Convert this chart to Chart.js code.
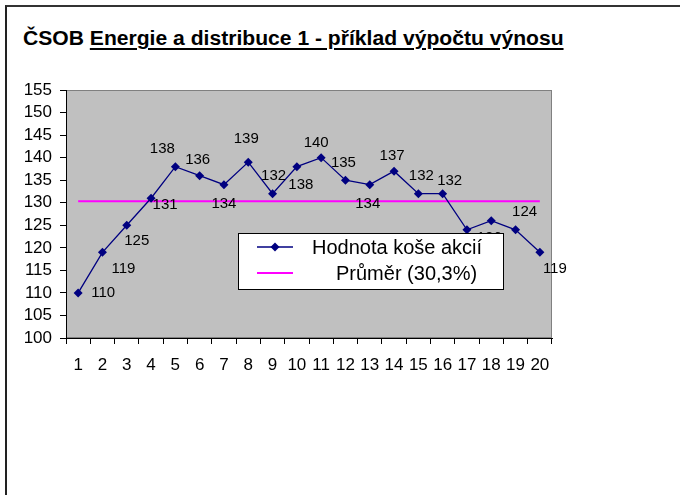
<!DOCTYPE html>
<html>
<head>
<meta charset="utf-8">
<script src="https://cdn.jsdelivr.net/npm/chart.js@4"></script>
<style>
    html, body { margin: 0; padding: 0; background: #fff; }
    #wrap { position: relative; width: 680px; height: 495px; overflow: hidden; }
    #frame { position: absolute; left: 5px; top: 5px; width: 700px; height: 520px;
             border-top: 2px solid #333; border-left: 2px solid #222; }
    #title { position: absolute; left: 23px; top: 27px; white-space: nowrap;
             font: bold 20px "Liberation Sans", Arial, sans-serif; line-height: 22px;
             transform: scaleX(1.055); transform-origin: left top; color: #000; }
    #title u { text-decoration-thickness: 2px; text-underline-offset: 3px; }
    canvas { position: absolute; left: 0; top: 0; }
</style>
</head>
<body>
<div id="wrap">
    <div id="frame"></div>
    <div id="title">ČSOB <u>Energie a distribuce 1 - příklad výpočtu výnosu</u></div>
    <canvas id="chart" width="680" height="495"></canvas>
</div>
<script>
    // Data
    const periods = ['1', '2', '3', '4', '5', '6', '7', '8', '9', '10',
                     '11', '12', '13', '14', '15', '16', '17', '18', '19', '20'];
    const basketValues = [110, 119, 125, 131, 138, 136, 134, 139, 132, 138,
                          140, 135, 134, 137, 132, 132, 124, 126, 124, 119];
    const averageValue = 130.3;
    const averageLine = periods.map(() => averageValue);
    const seriesNames = ['Hodnota koše akcií', 'Průměr (30,3%)'];

    const FONT = '"Liberation Sans", Arial, sans-serif';

    // where each value label sits relative to its point (dx, dy)
    const labelOffsets = [
        [25, 0], [21, 17], [10, 16], [14, 7], [-13, -18], [-2, -16], [0, 19], [-2, -23],
        [1, -18], [4, 18], [-5, -15], [-2, -17], [-2, 19], [-2, -15], [3, -18], [7, -13],
        [2, 17], [-2, 17], [9, -18], [15, 17]
    ];

    // grey plot area with light border
    const plotBackground = {
        id: 'plotBackground',
        beforeDraw(chart) {
            const { ctx, chartArea: a } = chart;
            ctx.save();
            ctx.fillStyle = '#C0C0C0';
            ctx.fillRect(a.left, a.top, a.right - a.left, a.bottom - a.top);
            ctx.strokeStyle = '#808080';
            ctx.lineWidth = 1;
            ctx.strokeRect(a.left + 0.5, a.top + 0.5, a.right - a.left - 1, a.bottom - a.top - 1);
            ctx.restore();
        }
    };

    // value labels next to the points
    const valueLabels = {
        id: 'valueLabels',
        afterDatasetsDraw(chart) {
            const { ctx } = chart;
            const meta = chart.getDatasetMeta(0);
            ctx.save();
            ctx.font = '15px ' + FONT;
            ctx.fillStyle = '#000';
            ctx.textAlign = 'center';
            ctx.textBaseline = 'middle';
            meta.data.forEach((pt, i) => {
                const [dx, dy] = labelOffsets[i];
                ctx.fillText(String(basketValues[i]), pt.x + dx, pt.y + dy);
            });
            ctx.restore();
        }
    };

    // legend box inside the plot
    const boxLegend = {
        id: 'boxLegend',
        afterDraw(chart) {
            const { ctx } = chart;
            const x = 238, y = 233, w = 265, h = 56;
            ctx.save();
            ctx.fillStyle = '#fff';
            ctx.fillRect(x, y, w, h);
            ctx.strokeStyle = '#000';
            ctx.lineWidth = 1;
            ctx.strokeRect(x + 0.5, y + 0.5, w, h);

            // series 1 sample
            const y1 = 247, y2 = 273;
            ctx.strokeStyle = '#000080';
            ctx.lineWidth = 1.3;
            ctx.beginPath();
            ctx.moveTo(257, y1);
            ctx.lineTo(293, y1);
            ctx.stroke();
            ctx.fillStyle = '#000080';
            ctx.beginPath();
            ctx.moveTo(275, y1 - 4.5);
            ctx.lineTo(279.5, y1);
            ctx.lineTo(275, y1 + 4.5);
            ctx.lineTo(270.5, y1);
            ctx.closePath();
            ctx.fill();

            // series 2 sample
            ctx.strokeStyle = '#FF00FF';
            ctx.lineWidth = 2;
            ctx.beginPath();
            ctx.moveTo(257, y2);
            ctx.lineTo(293, y2);
            ctx.stroke();

            ctx.fillStyle = '#000';
            ctx.font = '20px ' + FONT;
            ctx.textAlign = 'left';
            ctx.textBaseline = 'middle';
            ctx.fillText(seriesNames[0], 312, y1 + 1);
            ctx.fillText(seriesNames[1], 336, y2 + 1);
            ctx.restore();
        }
    };

    const ctx = document.getElementById('chart').getContext('2d');
    new Chart(ctx, {
        type: 'line',
        data: {
            labels: periods,
            datasets: [{
                label: seriesNames[0],
                data: basketValues,
                borderColor: '#000080',
                backgroundColor: '#000080',
                borderWidth: 1.3,
                pointStyle: 'rectRot',
                pointRadius: 4.5,
                pointBorderWidth: 0,
                tension: 0
            }, {
                label: seriesNames[1],
                data: averageLine,
                borderColor: '#FF00FF',
                borderWidth: 2,
                pointRadius: 0,
                tension: 0
            }]
        },
        options: {
            responsive: false,
            animation: false,
            devicePixelRatio: 1,
            layout: { padding: { top: 90, right: 128, bottom: 117, left: 0 } },
            plugins: {
                legend: { display: false },
                title: { display: false },
                tooltip: { enabled: false }
            },
            scales: {
                x: {
                    type: 'category',
                    offset: true,
                    afterFit(scale) { scale.height = 40; },
                    grid: {
                        offset: true,
                        drawOnChartArea: false,
                        drawTicks: true,
                        tickLength: 6,
                        tickColor: '#000'
                    },
                    border: { display: true, color: '#000', width: 1 },
                    ticks: {
                        color: '#000',
                        font: { family: FONT, size: 17 },
                        padding: 11,
                        maxRotation: 0,
                        autoSkip: false
                    }
                },
                y: {
                    min: 100,
                    max: 155,
                    afterFit(scale) { scale.width = 66; },
                    grid: {
                        drawOnChartArea: false,
                        drawTicks: true,
                        tickLength: 6,
                        tickColor: '#000'
                    },
                    border: { display: true, color: '#000', width: 1 },
                    ticks: {
                        stepSize: 5,
                        autoSkip: false,
                        color: '#000',
                        font: { family: FONT, size: 17 },
                        padding: 8
                    }
                }
            }
        },
        plugins: [plotBackground, valueLabels, boxLegend]
    });
</script>
</body>
</html>
